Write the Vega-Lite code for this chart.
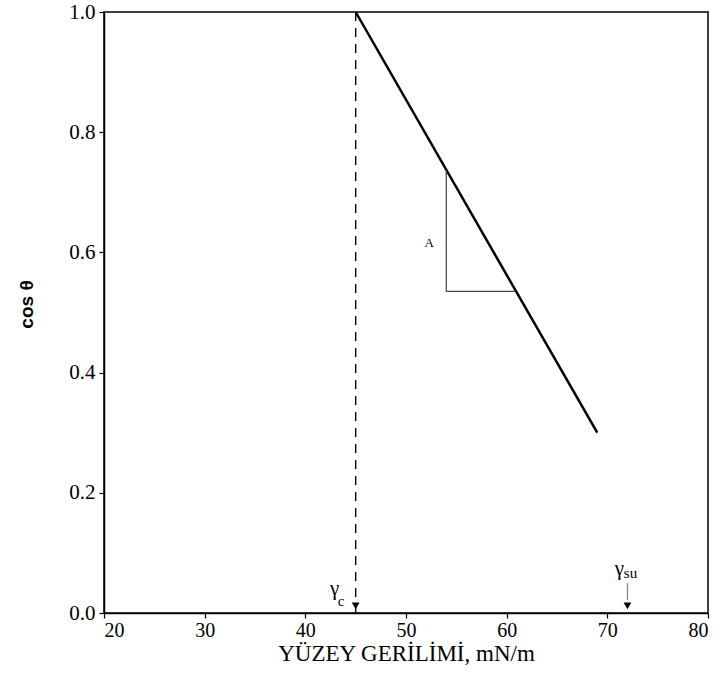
{
  "$schema": "https://vega.github.io/schema/vega-lite/v6.json",
  "width": 604,
  "height": 601,
  "autosize": "none",
  "padding": {"left": 104, "top": 12, "right": 15, "bottom": 81},
  "background": "white",
  "config": {
    "view": {"stroke": "black", "strokeWidth": 1.5},
    "axis": {
      "labelColor": "black",
      "titleColor": "black",
      "domainColor": "black",
      "domainWidth": 1.5,
      "tickColor": "black",
      "tickWidth": 1.2,
      "tickSize": 5,
      "grid": false
    }
  },
  "datasets": {
    "fit": [{"g": 45, "c": 1.0}, {"g": 69, "c": 0.3}],
    "critical": [{"g": 45, "c": 1.0}, {"g": 45, "c": 0.0}],
    "slope": [
      {"g": 54, "c": 0.7375, "k": 1},
      {"g": 54, "c": 0.535, "k": 2},
      {"g": 60.9, "c": 0.535, "k": 3}
    ],
    "arrows": [{"g": 45, "c": 0.012}, {"g": 72, "c": 0.012}],
    "stem": [{"g": 72, "c": 0.05, "c2": 0.022}],
    "symbols": [
      {"g": 42.9, "c": 0.04, "t": "γ", "s": 21},
      {"g": 71.2, "c": 0.074, "t": "γ", "s": 21},
      {"g": 52.3, "c": 0.616, "t": "A", "s": 13}
    ],
    "subs": [
      {"g": 43.55, "c": 0.02, "t": "c"},
      {"g": 72.3, "c": 0.066, "t": "su"}
    ]
  },
  "encoding": {
    "x": {
      "field": "g", "type": "quantitative",
      "scale": {"domain": [20, 80], "nice": false, "zero": false},
      "axis": {
        "values": [20, 30, 40, 50, 60, 70, 80],
        "labelFont": "Liberation Serif",
        "labelFontSize": 20,
        "title": "YÜZEY GERİLİMİ, mN/m",
        "titleFont": "Liberation Serif",
        "titleFontSize": 23,
        "titleFontWeight": "normal",
        "titlePadding": 2,
        "labelPadding": 2
      }
    },
    "y": {
      "field": "c", "type": "quantitative",
      "scale": {"domain": [0, 1], "nice": false},
      "axis": {
        "values": [0, 0.2, 0.4, 0.6, 0.8, 1.0],
        "format": ".1f",
        "labelFont": "Liberation Serif",
        "labelFontSize": 21,
        "title": "cos θ",
        "titleFont": "Liberation Sans",
        "titleFontSize": 19,
        "titleFontWeight": "bold",
        "titlePadding": 32,
        "titleY": 292,
        "labelPadding": 4
      }
    }
  },
  "layer": [
    {
      "data": {"name": "critical"},
      "mark": {"type": "line", "color": "black", "strokeWidth": 1.4, "strokeDash": [9, 7]}
    },
    {
      "data": {"name": "fit"},
      "mark": {"type": "line", "color": "black", "strokeWidth": 2.5}
    },
    {
      "data": {"name": "slope"},
      "mark": {"type": "line", "color": "#444444", "strokeWidth": 1.2},
      "encoding": {"order": {"field": "k"}}
    },
    {
      "data": {"name": "stem"},
      "mark": {"type": "rule", "color": "#888888", "strokeWidth": 1.3},
      "encoding": {"y2": {"field": "c2"}}
    },
    {
      "data": {"name": "arrows"},
      "mark": {"type": "point", "shape": "triangle-down", "filled": true, "color": "black", "size": 60, "opacity": 1}
    },
    {
      "data": {"name": "symbols"},
      "mark": {"type": "text", "font": "Liberation Serif", "color": "black"},
      "encoding": {
        "text": {"field": "t"},
        "size": {"field": "s", "type": "quantitative", "scale": null}
      }
    },
    {
      "data": {"name": "subs"},
      "mark": {"type": "text", "font": "Liberation Serif", "fontSize": 15, "color": "black"},
      "encoding": {"text": {"field": "t"}}
    }
  ]
}
